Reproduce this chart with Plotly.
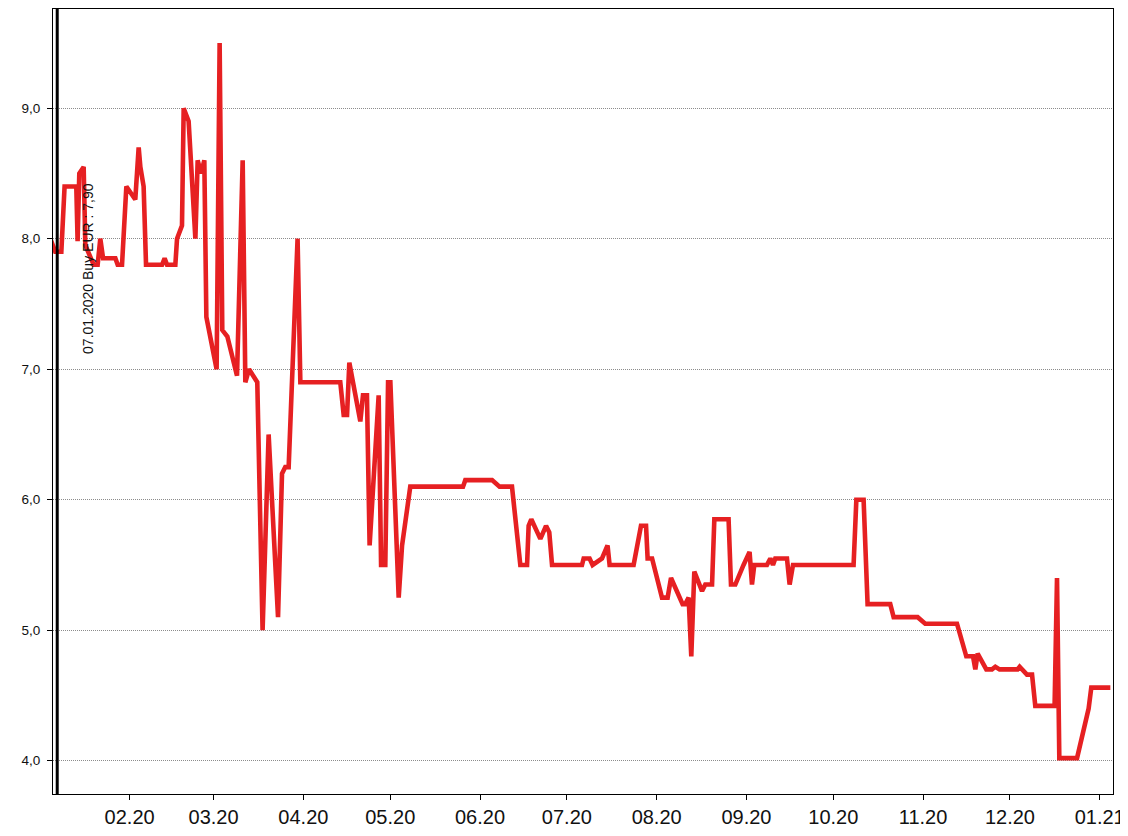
import plotly.graph_objects as go

dates = [
    "2020-01-04 15:00", "2020-01-06 08:00", "2020-01-08 10:00", "2020-01-09 13:00",
    "2020-01-13 14:00", "2020-01-14 01:00", "2020-01-14 15:00", "2020-01-16 03:00",
    "2020-01-16 17:00", "2020-01-19 14:00", "2020-01-20 23:00", "2020-01-21 21:00",
    "2020-01-22 20:00", "2020-01-27 02:00", "2020-01-27 21:00", "2020-01-29 09:00",
    "2020-01-30 21:00", "2020-02-02 23:00", "2020-02-04 03:00", "2020-02-04 17:00",
    "2020-02-05 20:00", "2020-02-06 16:00", "2020-02-12 05:00", "2020-02-13 02:00",
    "2020-02-13 22:00", "2020-02-16 19:00", "2020-02-17 09:00", "2020-02-19 02:00",
    "2020-02-19 16:00", "2020-02-21 09:00", "2020-02-23 17:00", "2020-02-24 12:00",
    "2020-02-25 16:00", "2020-02-26 19:00", "2020-02-27 12:00", "2020-03-02 01:00",
    "2020-03-03 02:00", "2020-03-04 00:00", "2020-03-05 18:00", "2020-03-09 02:00",
    "2020-03-11 01:00", "2020-03-11 23:00", "2020-03-13 06:00", "2020-03-16 02:00",
    "2020-03-17 22:00", "2020-03-20 00:00", "2020-03-23 06:00", "2020-03-24 15:00",
    "2020-03-25 18:00", "2020-03-26 22:00", "2020-03-30 00:00", "2020-03-30 23:00",
    "2020-04-13 18:00", "2020-04-14 22:00", "2020-04-16 02:00", "2020-04-16 21:00",
    "2020-04-20 16:00", "2020-04-21 14:00", "2020-04-22 23:00", "2020-04-23 21:00",
    "2020-04-27 00:00", "2020-04-27 20:00", "2020-04-29 07:00", "2020-04-30 06:00",
    "2020-05-01 01:00", "2020-05-03 22:00", "2020-05-05 02:00", "2020-05-07 22:00",
    "2020-05-26 03:00", "2020-05-26 22:00", "2020-06-05 04:00", "2020-06-07 18:00",
    "2020-06-12 01:00", "2020-06-14 22:00", "2020-06-17 06:00", "2020-06-17 19:00",
    "2020-06-18 17:00", "2020-06-21 20:00", "2020-06-23 19:00", "2020-06-24 22:00",
    "2020-06-25 21:00", "2020-07-06 05:00", "2020-07-06 19:00", "2020-07-08 20:00",
    "2020-07-09 21:00", "2020-07-13 03:00", "2020-07-15 01:00", "2020-07-15 18:00",
    "2020-07-24 01:00", "2020-07-26 14:00", "2020-07-28 08:00", "2020-07-28 21:00",
    "2020-07-30 10:00", "2020-08-02 20:00", "2020-08-04 19:00", "2020-08-05 23:00",
    "2020-08-09 23:00", "2020-08-10 21:00", "2020-08-12 01:00", "2020-08-12 23:00",
    "2020-08-14 00:00", "2020-08-16 16:00", "2020-08-17 19:00", "2020-08-20 03:00",
    "2020-08-20 22:00", "2020-08-25 20:00", "2020-08-26 16:00", "2020-08-28 04:00",
    "2020-08-31 00:00", "2020-09-02 02:00", "2020-09-02 22:00", "2020-09-03 17:00",
    "2020-09-08 02:00", "2020-09-09 06:00", "2020-09-10 04:00", "2020-09-10 23:00",
    "2020-09-15 00:00", "2020-09-15 22:00", "2020-09-17 02:00", "2020-10-08 00:00",
    "2020-10-08 23:00", "2020-10-11 11:00", "2020-10-12 20:00", "2020-10-20 16:00",
    "2020-10-21 20:00", "2020-10-30 03:00", "2020-11-01 18:00", "2020-11-12 17:00",
    "2020-11-15 22:00", "2020-11-18 06:00", "2020-11-19 01:00", "2020-11-19 20:00",
    "2020-11-22 20:00", "2020-11-24 19:00", "2020-11-25 23:00", "2020-11-27 10:00",
    "2020-12-03 15:00", "2020-12-04 08:00", "2020-12-06 21:00", "2020-12-08 15:00",
    "2020-12-09 18:00", "2020-12-16 10:00", "2020-12-17 06:00", "2020-12-18 01:00",
    "2020-12-24 04:00", "2020-12-28 04:00", "2020-12-29 02:00", "2021-01-04 16:00",
]

prices = [
    8.00, 7.90, 7.90, 8.40,
    8.40, 7.98, 8.50, 8.55,
    7.95, 7.80, 7.80, 8.00,
    7.85, 7.85, 7.80, 7.80,
    8.40, 8.30, 8.70, 8.55,
    8.40, 7.80, 7.80, 7.85,
    7.80, 7.80, 8.00, 8.10,
    9.00, 8.90, 8.00, 8.60,
    8.50, 8.60, 7.40, 7.00,
    9.50, 7.30, 7.25, 6.95,
    8.60, 6.90, 7.00, 6.90,
    5.00, 6.50, 5.10, 6.20,
    6.25, 6.25, 8.00, 6.90,
    6.90, 6.65, 6.65, 7.05,
    6.60, 6.80, 6.80, 5.65,
    6.80, 5.50, 5.50, 6.90,
    6.90, 5.25, 5.65, 6.10,
    6.10, 6.15, 6.15, 6.10,
    6.10, 5.50, 5.50, 5.80,
    5.85, 5.70, 5.80, 5.75,
    5.50, 5.50, 5.55, 5.55,
    5.50, 5.55, 5.65, 5.50,
    5.50, 5.80, 5.80, 5.55,
    5.55, 5.25, 5.25, 5.40,
    5.20, 5.20, 5.25, 4.80,
    5.45, 5.30, 5.35, 5.35,
    5.85, 5.85, 5.35, 5.35,
    5.50, 5.60, 5.35, 5.50,
    5.50, 5.55, 5.50, 5.55,
    5.55, 5.35, 5.50, 5.50,
    6.00, 6.00, 5.20, 5.20,
    5.10, 5.10, 5.05, 5.05,
    4.80, 4.80, 4.70, 4.82,
    4.70, 4.70, 4.72, 4.70,
    4.70, 4.72, 4.66, 4.66,
    4.42, 4.42, 5.40, 4.02,
    4.02, 4.40, 4.56, 4.56,
]

buy_date = "2020-01-07"
buy_label = "07.01.2020 Buy EUR : 7,90"
x_range = ["2020-01-05 13:00", "2021-01-05 14:00"]
y_range = [3.745, 9.76]
y_ticks = [4, 5, 6, 7, 8, 9]
x_ticks = ["2020-02-01", "2020-03-01", "2020-04-01", "2020-05-01", "2020-06-01",
           "2020-07-01", "2020-08-01", "2020-09-01", "2020-10-01", "2020-11-01",
           "2020-12-01", "2021-01-01"]

font_family = "Liberation Sans, Arial, sans-serif"

fig = go.Figure()
fig.add_trace(go.Scatter(
    x=dates, y=prices, mode="lines",
    line=dict(color="#e62022", width=4.6),
    hoverinfo="skip", showlegend=False,
))

fig.add_shape(type="line", xref="x", yref="paper",
              x0=buy_date, x1=buy_date, y0=0, y1=1,
              line=dict(color="black", width=3), layer="above")

fig.add_annotation(x=buy_date, y=7.77, xref="x", yref="y",
                   text=buy_label, textangle=-90, showarrow=False,
                   xshift=30, xanchor="center", yanchor="middle",
                   font=dict(family=font_family, size=14, color="#111"))

# page body has an 8px margin, so the figure is sized/offset to compensate
fig.update_layout(
    width=1120, height=829,
    margin=dict(l=45, r=15, t=1, b=43),
    paper_bgcolor="white", plot_bgcolor="white",
    separators=",.",
    font=dict(family=font_family, color="#111"),
    showlegend=False,
)

fig.update_xaxes(
    type="date", range=x_range,
    tickvals=x_ticks, tickformat="%m.%y",
    ticks="outside", ticklen=5, tickcolor="black", tickwidth=1,
    tickfont=dict(size=20, family=font_family, color="#111"),
    showgrid=False, zeroline=False,
    showline=True, linecolor="black", linewidth=1, mirror=True,
)
fig.update_yaxes(
    range=y_range, tickvals=y_ticks, tickformat=".1f",
    ticks="outside", ticklen=5, tickcolor="black", tickwidth=1,
    ticklabelstandoff=4,
    tickfont=dict(size=13.5, family=font_family, color="#111"),
    showgrid=True, gridcolor="#8c8c8c", griddash="1px,1px", gridwidth=1,
    zeroline=False,
    showline=True, linecolor="black", linewidth=1, mirror=True,
)

fig.write_html("out.html")
